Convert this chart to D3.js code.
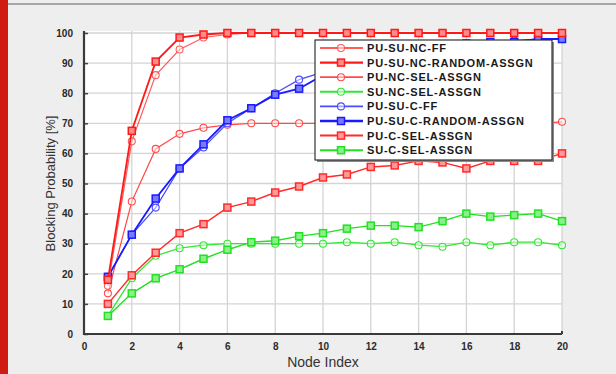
<!DOCTYPE html>
<html>
<head>
<meta charset="utf-8">
<script src="https://cdn.jsdelivr.net/npm/d3@7"></script>
<style>
  html, body { margin: 0; padding: 0; background: #eeeeee; }
  svg { display: block; font-family: "Liberation Sans", Arial, sans-serif; }
</style>
</head>
<body>
<svg id="chart" width="616" height="374"></svg>
<script>
// Node index (x values)
const nodes = d3.range(1, 21);

// Blocking probability [%] for each scheme
const puSuNcFF        = [16, 64, 86, 94.5, 98.5, 99.5, 100, 100, 100, 100, 100, 100, 100, 100, 100, 100, 100, 100, 100, 100];
const puSuNcRandom    = [18, 67.5, 90.5, 98.5, 99.5, 100, 100, 100, 100, 100, 100, 100, 100, 100, 100, 100, 100, 100, 100, 100];
const puNcSel         = [13.5, 44, 61.5, 66.5, 68.5, 69.5, 70, 70, 70, 70, 70, 70, 70, 70, 70, 70, 70, 70, 70, 70.5];
const suNcSel         = [6, 18.5, 26, 28.5, 29.5, 30, 30, 30, 30, 30, 30.5, 30, 30.5, 29.5, 29, 30.5, 29.5, 30.5, 30.5, 29.5];
const puSuCFF         = [19, 33, 42, 55, 62, 70, 75, 80, 84.5, 87, 89, 91, 93, 94.5, 95.5, 96.5, 97, 97.5, 98, 98];
const puSuCRandom     = [19, 33, 45, 55, 63, 71, 75, 79.5, 81.5, 86, 88.5, 90.5, 92.5, 94, 95.5, 96.5, 97, 97, 98, 98];
const puCSel          = [10, 19.5, 27, 33.5, 36.5, 42, 44, 47, 49, 52, 53, 55.5, 56, 57.5, 57, 55, 57.5, 57.5, 57.5, 60];
const suCSel          = [6, 13.5, 18.5, 21.5, 25, 28, 30.5, 31, 32.5, 33.5, 35, 36, 36, 35.5, 37.5, 40, 39, 39.5, 40, 37.5];

const seriesNames = ["PU-SU-NC-FF", "PU-SU-NC-RANDOM-ASSGN", "PU-NC-SEL-ASSGN", "SU-NC-SEL-ASSGN",
                     "PU-SU-C-FF", "PU-SU-C-RANDOM-ASSGN", "PU-C-SEL-ASSGN", "SU-C-SEL-ASSGN"];
const seriesValues = [puSuNcFF, puSuNcRandom, puNcSel, suNcSel, puSuCFF, puSuCRandom, puCSel, suCSel];

const xTicks = [0, 2, 4, 6, 8, 10, 12, 14, 16, 18, 20];
const yTicks = [0, 10, 20, 30, 40, 50, 60, 70, 80, 90, 100];

// Drawing styles per series
const styles = [
  { color: "#ff5c5c", width: 1.2, marker: "circle", fill: "none" },
  { color: "#ff1a1a", width: 1.8, marker: "square", fill: "#ff8a8a" },
  { color: "#ff4a4a", width: 1.2, marker: "circle", fill: "none" },
  { color: "#33e633", width: 1.3, marker: "circle", fill: "none" },
  { color: "#4a4aff", width: 1.2, marker: "circle", fill: "none" },
  { color: "#1a1aff", width: 1.8, marker: "square", fill: "#7a7aff" },
  { color: "#ff2a2a", width: 1.4, marker: "square", fill: "#ff9a9a" },
  { color: "#22e022", width: 1.4, marker: "square", fill: "#8af08a" }
];

const svg = d3.select("#chart");

// Page decoration: left accent bar and top rule
svg.append("rect").attr("x", 0).attr("y", 0).attr("width", 8).attr("height", 374).attr("fill", "#d01c10");
svg.append("rect").attr("x", 8).attr("y", 3).attr("width", 608).attr("height", 2).attr("fill", "#a4a8ac");

const plotL = 84, plotR = 562, plotT = 33, plotB = 334;
const x = d3.scaleLinear().domain([0, 20]).range([plotL, plotR]);
const y = d3.scaleLinear().domain([0, 100]).range([plotB, plotT]);

// Plot area
svg.append("rect").attr("x", plotL).attr("y", plotT - 2).attr("width", plotR - plotL).attr("height", plotB - plotT + 2)
  .attr("fill", "#ffffff");

// Grid
const grid = svg.append("g").attr("stroke", "#d4d4d4").attr("stroke-width", 1.3);
xTicks.slice(1).forEach(t => grid.append("line").attr("x1", x(t)).attr("x2", x(t)).attr("y1", plotT - 2).attr("y2", plotB));
yTicks.slice(1).forEach(t => grid.append("line").attr("x1", plotL).attr("x2", plotR).attr("y1", y(t)).attr("y2", y(t)));

// Axes
const xAxis = d3.axisBottom(x).tickValues(xTicks).tickSize(0).tickPadding(9).tickFormat(d3.format("d"));
const yAxis = d3.axisLeft(y).tickValues(yTicks).tickSize(-4).tickPadding(11).tickFormat(d3.format("d"));

const gx = svg.append("g").attr("transform", `translate(0,${plotB})`).call(xAxis);
const gy = svg.append("g").attr("transform", `translate(${plotL},0)`).call(yAxis);
[gx, gy].forEach(g => {
  g.select(".domain").remove();
  g.selectAll("text").attr("font-size", 10).attr("fill", "#2a2a2a").attr("font-weight", "bold");
  g.selectAll("line").attr("stroke", "#444").attr("stroke-width", 1.5);
});

// Axis frame (left and bottom)
svg.append("path")
  .attr("d", `M${plotL},${plotT - 2}V${plotB}H${plotR}`)
  .attr("fill", "none").attr("stroke", "#3a3a3a").attr("stroke-width", 2.2);
svg.append("path")
  .attr("d", `M${plotR},${plotB - 3}V${plotB}`)
  .attr("fill", "none").attr("stroke", "#3a3a3a").attr("stroke-width", 2);

// Axis titles
svg.append("text").attr("x", (plotL + plotR) / 2).attr("y", 367).attr("text-anchor", "middle")
  .attr("font-size", 14).attr("fill", "#333").text("Node Index");
svg.append("text").attr("transform", `translate(55,${(plotT + plotB) / 2}) rotate(-90)`)
  .attr("text-anchor", "middle").attr("font-size", 13).attr("fill", "#333").text("Blocking Probability [%]");

// Series lines and markers
const line = d3.line().x((d, i) => x(nodes[i])).y(d => y(d));
const plot = svg.append("g");

function drawMarker(g, st, cx, cy, size) {
  if (st.marker === "square") {
    g.append("rect").attr("x", cx - size / 2).attr("y", cy - size / 2).attr("width", size).attr("height", size)
      .attr("fill", st.fill).attr("stroke", st.color).attr("stroke-width", 1.5);
  } else {
    g.append("circle").attr("cx", cx).attr("cy", cy).attr("r", size / 2)
      .attr("fill", st.fill === "none" ? "#ffffff" : st.fill).attr("fill-opacity", 0.5)
      .attr("stroke", st.color).attr("stroke-width", 1.1);
  }
}

// Draw the lower series first so the saturating curves sit on top
const order = [3, 7, 6, 2, 4, 5, 0, 1];
order.forEach(k => {
  const st = styles[k];
  const g = plot.append("g");
  g.append("path").datum(seriesValues[k]).attr("d", line)
    .attr("fill", "none").attr("stroke", st.color).attr("stroke-width", st.width);
  seriesValues[k].forEach((v, i) => drawMarker(g, st, x(nodes[i]), y(v), 7));
});

// Legend
const lg = svg.append("g");
const lx = 315, ly = 40, lw = 237, lh = 120;
lg.append("rect").attr("x", lx + 2).attr("y", ly + 2).attr("width", lw).attr("height", lh).attr("fill", "#8a8a8a");
lg.append("rect").attr("x", lx).attr("y", ly).attr("width", lw).attr("height", lh)
  .attr("fill", "#ffffff").attr("stroke", "#333").attr("stroke-width", 1.2);
seriesNames.forEach((name, k) => {
  const st = styles[k];
  const yy = ly + 8 + k * 14.6;
  lg.append("line").attr("x1", lx + 5).attr("x2", lx + 48).attr("y1", yy).attr("y2", yy)
    .attr("stroke", st.color).attr("stroke-width", st.width + 0.6);
  drawMarker(lg, st, lx + 26, yy, 7);
  lg.append("text").attr("x", lx + 52).attr("y", yy + 4).attr("font-size", 11).attr("font-weight", "bold")
    .attr("letter-spacing", 0.8).attr("fill", "#1a1a1a").text(name);
});
</script>
</body>
</html>
